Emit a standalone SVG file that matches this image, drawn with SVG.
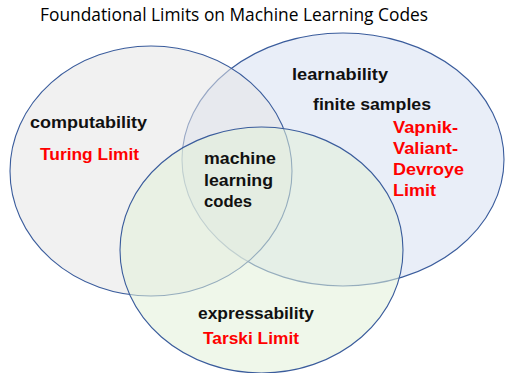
<svg xmlns="http://www.w3.org/2000/svg" width="506" height="373" viewBox="0 0 506 373">
<style>
.ell{stroke:#3a5c9c;stroke-width:1.1}
.t{font-family:"Liberation Sans",Arial,sans-serif;font-weight:bold;font-size:16px;fill:#111}
.r{fill:#ff0000}
.title{font-family:"Open Sans","Liberation Sans",sans-serif;font-size:17.5px;fill:#000}
</style>
<rect width="506" height="373" fill="#ffffff"/>
<text class="title" x="40" y="21" textLength="388" lengthAdjust="spacingAndGlyphs">Foundational Limits on Machine Learning Codes</text>
<g id="learnability">
<ellipse class="ell" cx="343" cy="159.5" rx="161" ry="126.5" fill="#dae3f3" fill-opacity="0.6"/>
</g>
<g id="computability">
<ellipse class="ell" cx="151" cy="171" rx="141" ry="125" fill="#e6e6e6" fill-opacity="0.55"/>
</g>
<g id="expressability">
<ellipse class="ell" cx="261.5" cy="250" rx="141.5" ry="123" fill="#e2f0d9" fill-opacity="0.55"/>
</g>
<g id="labels">
<text class="t" x="30" y="128" textLength="117" lengthAdjust="spacingAndGlyphs">computability</text>
<text class="t r" x="40" y="160" textLength="99" lengthAdjust="spacingAndGlyphs">Turing Limit</text>
<text class="t" x="292" y="80" textLength="96" lengthAdjust="spacingAndGlyphs">learnability</text>
<text class="t" x="313" y="110" textLength="118" lengthAdjust="spacingAndGlyphs">finite samples</text>
<text class="t r" x="393" y="133" textLength="65" lengthAdjust="spacingAndGlyphs">Vapnik-</text>
<text class="t r" x="393" y="154" textLength="65" lengthAdjust="spacingAndGlyphs">Valiant-</text>
<text class="t r" x="393" y="175" textLength="71" lengthAdjust="spacingAndGlyphs">Devroye</text>
<text class="t r" x="393" y="196" textLength="43" lengthAdjust="spacingAndGlyphs">Limit</text>
<text class="t" x="204" y="164" textLength="72" lengthAdjust="spacingAndGlyphs">machine</text>
<text class="t" x="204" y="186" textLength="69" lengthAdjust="spacingAndGlyphs">learning</text>
<text class="t" x="204" y="207" textLength="48" lengthAdjust="spacingAndGlyphs">codes</text>
<text class="t" x="198" y="319" textLength="116" lengthAdjust="spacingAndGlyphs">expressability</text>
<text class="t r" x="203" y="344" textLength="96" lengthAdjust="spacingAndGlyphs">Tarski Limit</text>
</g>
<g id="connectors"/>
</svg>
